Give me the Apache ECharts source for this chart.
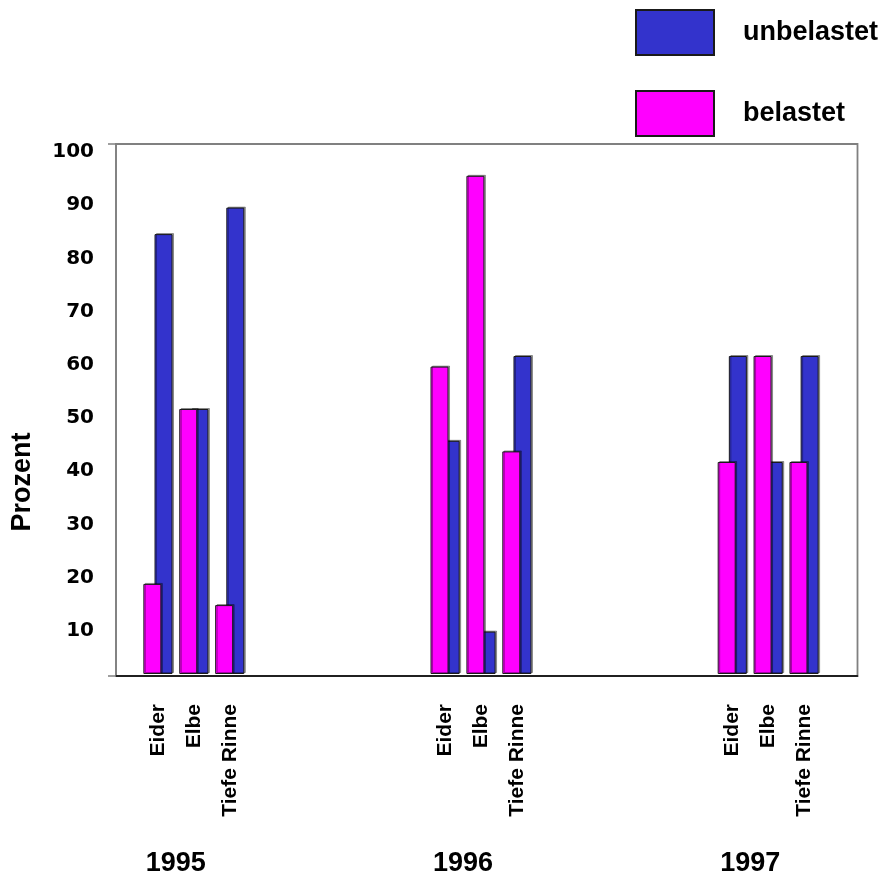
<!DOCTYPE html>
<html>
<head>
<meta charset="utf-8">
<script src="https://cdn.jsdelivr.net/npm/echarts@6/dist/echarts.min.js"></script>
<style>
  html, body { margin: 0; padding: 0; background: #ffffff; }
  #chart { width: 883px; height: 877px; }
</style>
</head>
<body>
<div id="chart"></div>
<script>
// Sampling sites per year; empty slots separate the years.
const categories = [
  'Eider', 'Elbe', 'Tiefe Rinne', '', '', '', '', '',
  'Eider', 'Elbe', 'Tiefe Rinne', '', '', '', '', '',
  'Eider', 'Elbe', 'Tiefe Rinne'
];
const yearLabels = [
  '', '1995', '', '', '', '', '', '',
  '', '1996', '', '', '', '', '', '',
  '', '1997', ''
];
// Percent values
const belastet = [
  17, 50, 13, null, null, null, null, null,
  58, 94, 42, null, null, null, null, null,
  40, 60, 40
];
const unbelastet = [
  83, 50, 88, null, null, null, null, null,
  44, 8, 60, null, null, null, null, null,
  60, 40, 60
];
const yTickLabels = [10, 20, 30, 40, 50, 60, 70, 80, 90, 100];

const FONT = '"Liberation Sans", Arial, sans-serif';
const BLUE = '#3333CC';
const PINK = '#FF00FF';

const chart = echarts.init(document.getElementById('chart'), null, { renderer: 'canvas' });

const barStyle = (color) => ({
  color: color,
  borderColor: '#1a1a1a',
  borderWidth: 1,
  shadowColor: 'rgba(0,0,0,0.35)',
  shadowOffsetX: 1.5,
  shadowOffsetY: -1,
  shadowBlur: 0
});

chart.setOption({
  animation: false,
  backgroundColor: '#ffffff',
  legend: {
    data: ['unbelastet', 'belastet'],
    orient: 'vertical',
    left: 635,
    top: 9,
    padding: 0,
    itemWidth: 78,
    itemHeight: 45,
    itemGap: 34,
    icon: 'rect',
    selectedMode: false,
    textStyle: {
      fontFamily: FONT,
      fontSize: 27,
      fontWeight: 'bold',
      color: '#000',
      padding: [0, 0, 0, 24]
    }
  },
  grid: [
    // plot frame
    { left: 116, right: 25.5, top: 144, bottom: 201, show: true,
      borderColor: '#808080', borderWidth: 1.8, backgroundColor: 'transparent' },
    // bar slots
    { left: 140, right: 61, top: 144, bottom: 201 }
  ],
  xAxis: [
    { gridIndex: 0, type: 'category', data: [''], position: 'bottom',
      axisLine: { show: true, lineStyle: { color: '#000', width: 1.5 } },
      axisTick: { show: false }, axisLabel: { show: false }, splitLine: { show: false } },
    { gridIndex: 1, type: 'category', data: categories, position: 'bottom',
      axisLine: { show: false }, axisTick: { show: false }, splitLine: { show: false },
      axisLabel: {
        interval: 0, rotate: 90, margin: 30,
        fontFamily: FONT, fontSize: 21, fontWeight: 'bold', color: '#000'
      } },
    { gridIndex: 1, type: 'category', data: yearLabels, position: 'bottom',
      axisLine: { show: false }, axisTick: { show: false }, splitLine: { show: false },
      axisLabel: {
        interval: 0, margin: 176,
        fontFamily: FONT, fontSize: 27, fontWeight: 'bold', color: '#000',
        padding: [0, 36, 0, 0]
      } }
  ],
  yAxis: [
    { gridIndex: 0, type: 'value', min: 0, max: 100, interval: 10, position: 'left',
      name: 'Prozent', nameLocation: 'middle', nameGap: 80, nameRotate: 90,
      nameTextStyle: {
        fontFamily: FONT, fontSize: 27, fontWeight: 'bold', color: '#000',
        padding: [0, 144, 0, 0]
      },
      axisLine: { show: true, lineStyle: { color: '#808080', width: 1.5 } },
      axisTick: { show: true, length: 8, customValues: [0, 100],
        lineStyle: { color: '#808080', width: 1.5 } },
      splitLine: { show: false },
      axisLabel: {
        customValues: yTickLabels,
        margin: 22,
        verticalAlign: 'top',
        lineHeight: 16,
        fontFamily: '"DejaVu Sans", sans-serif', fontSize: 20, fontWeight: 'bold', color: '#000'
      } },
    { gridIndex: 1, type: 'value', min: 0, max: 100, interval: 10, show: false }
  ],
  series: [
    { name: 'belastet', type: 'bar', xAxisIndex: 1, yAxisIndex: 1,
      data: belastet, barWidth: 18, barGap: '-38%', z: 3,
      itemStyle: barStyle(PINK) },
    { name: 'unbelastet', type: 'bar', xAxisIndex: 1, yAxisIndex: 1,
      data: unbelastet, barWidth: 18, z: 2,
      itemStyle: barStyle(BLUE) }
  ]
});
</script>
</body>
</html>
